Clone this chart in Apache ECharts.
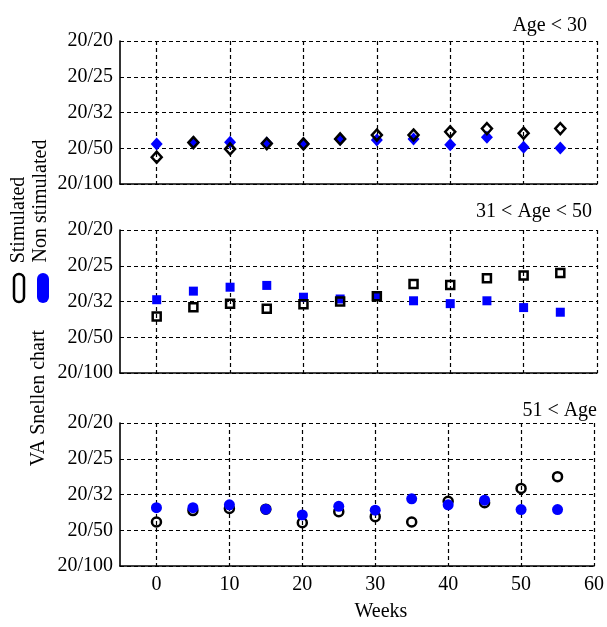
<!DOCTYPE html>
<html>
<head>
<meta charset="utf-8">
<script src="https://cdn.jsdelivr.net/npm/echarts@6/dist/echarts.min.js"></script>
<style>
  html, body { margin: 0; padding: 0; background: #fff; }
  #main { width: 607px; height: 627px; }
</style>
</head>
<body>
<div id="main"></div>
<script type="text/javascript">
// weeks of follow-up
var weeks = [0, 5, 10, 15, 20, 25, 30, 35, 40, 45, 50, 55];
// y positions: 0 = 20/100 ... 4 = 20/20
var vaTicks = ['20/100', '20/50', '20/32', '20/25', '20/20'];
var weekTicks = [0, 10, 20, 30, 40, 50, 60];
var panelTitles = ['Age < 30', '31 < Age < 50', '51 < Age'];

// Age < 30
var youngStim = [0.75, 1.16, 0.98, 1.13, 1.12, 1.26, 1.37, 1.37, 1.46, 1.55, 1.42, 1.55];
var youngNon  = [1.12, 1.16, 1.17, 1.15, 1.13, 1.25, 1.23, 1.26, 1.10, 1.31, 1.03, 1.01];
// 31 < Age < 50
var midStim = [1.58, 1.84, 1.94, 1.80, 1.92, 2.00, 2.15, 2.49, 2.46, 2.65, 2.73, 2.80];
var midNon  = [2.05, 2.29, 2.40, 2.45, 2.12, 2.07, 2.15, 2.02, 1.94, 2.02, 1.83, 1.70];
// 51 < Age
var oldStim = [1.23, 1.55, 1.61, 1.59, 1.21, 1.52, 1.38, 1.23, 1.81, 1.77, 2.17, 2.50];
var oldNon  = [1.63, 1.63, 1.71, 1.59, 1.43, 1.67, 1.56, 1.88, 1.71, 1.84, 1.58, 1.58];

var FONT = 'Liberation Serif';
var BLUE = '#0000ff';

function pts(arr) {
    return weeks.map(function (w, i) { return [w, arr[i]]; });
}

var tops = [41, 230, 423];
var grids = [], xAxes = [], yAxes = [];
tops.forEach(function (t, i) {
    grids.push({ left: 120, width: 477, top: t, height: 143 });
    xAxes.push({
        type: 'value', gridIndex: i, min: -5, max: 60,
        axisLine: { onZero: false, lineStyle: { color: '#000', width: 1.6 } },
        axisTick: { show: false, customValues: weekTicks },
        axisLabel: {
            show: i === 2, customValues: weekTicks, margin: 9,
            color: '#000', fontFamily: FONT, fontSize: 20
        },
        splitLine: { show: true, lineStyle: { color: '#000', width: 1.2, type: [4, 3] } }
    });
    yAxes.push({
        type: 'value', gridIndex: i, min: 0, max: 4, interval: 1,
        axisLine: { show: true, onZero: false, lineStyle: { color: '#000', width: 1.6 } },
        axisTick: { show: false },
        axisLabel: {
            margin: 7, color: '#000', fontFamily: FONT, fontSize: 20,
            formatter: function (v) { return vaTicks[v]; }
        },
        splitLine: { show: true, lineStyle: { color: '#000', width: 1.2, type: [4, 3] } }
    });
});

function hollow(idx, arr, symbol, size, z) {
    return {
        type: 'scatter', xAxisIndex: idx, yAxisIndex: idx, data: pts(arr),
        symbol: symbol, symbolSize: size, z: z,
        itemStyle: { color: 'rgba(0,0,0,0)', borderColor: '#000', borderWidth: 2.5, opacity: 1 }
    };
}
function filled(idx, arr, symbol, size, z) {
    return {
        type: 'scatter', xAxisIndex: idx, yAxisIndex: idx, data: pts(arr),
        symbol: symbol, symbolSize: size, z: z,
        itemStyle: { color: BLUE, opacity: 1 }
    };
}

var series = [
    filled(0, youngNon, 'diamond', [12, 13], 2),
    hollow(0, youngStim, 'diamond', [10, 11], 3),
    filled(1, midNon, 'rect', 9, 2),
    hollow(1, midStim, 'rect', 8, 3),
    hollow(2, oldStim, 'circle', 9, 2),
    filled(2, oldNon, 'circle', 11, 3)
];

var titleRight = [15, 10, 5];
var titleY = [11, 197, 396];
var titles = panelTitles.map(function (t, i) {
    return {
        text: t, right: titleRight[i], top: titleY[i],
        textStyle: { fontFamily: FONT, fontSize: 20, fontWeight: 'normal', color: '#000' }
    };
});

var txt = { fontFamily: FONT, fontSize: 20, fill: '#000', align: 'center', verticalAlign: 'middle' };
var graphics = [
    { type: 'text', x: 381, y: 612, style: Object.assign({ text: 'Weeks' }, txt) },
    { type: 'text', x: 39, y: 398, rotation: Math.PI / 2, style: Object.assign({ text: 'VA Snellen chart' }, txt) },
    { type: 'text', x: 19, y: 220, rotation: Math.PI / 2, style: Object.assign({ text: 'Stimulated' }, txt) },
    { type: 'text', x: 41, y: 201, rotation: Math.PI / 2, style: Object.assign({ text: 'Non stimulated' }, txt) },
    { type: 'rect', shape: { x: 14, y: 274, width: 10, height: 28, r: 5 },
      style: { fill: 'none', stroke: '#000', lineWidth: 2.5 } },
    { type: 'rect', shape: { x: 37, y: 273, width: 12, height: 30, r: 6 },
      style: { fill: BLUE } }
];

var myChart = echarts.init(document.getElementById('main'));
var option = {
    backgroundColor: '#fff',
    animation: false,
    title: titles,
    grid: grids,
    xAxis: xAxes,
    yAxis: yAxes,
    series: series,
    graphic: graphics
};
myChart.setOption(option);
</script>
</body>
</html>
